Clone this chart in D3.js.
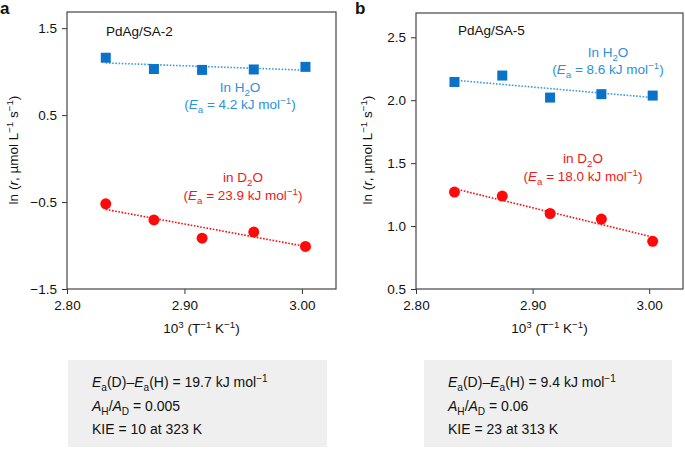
<!DOCTYPE html>
<html><head><meta charset="utf-8">
<script src="https://cdn.jsdelivr.net/npm/d3@7"></script>
<style>
body{margin:0;background:#fff;}
svg{display:block;font-family:"Liberation Sans",Arial,Helvetica,sans-serif;}
</style></head>
<body>
<svg id="c" width="685" height="457"></svg>
<script>
// ---- data ----
const invT = [2.833, 2.874, 2.915, 2.959, 3.003];
const xTicks = [2.80, 2.90, 3.00];
const fitX = [2.833, 3.003];

const aH2O = [1.16, 1.03, 1.02, 1.025, 1.055];
const aD2O = [-0.52, -0.705, -0.915, -0.845, -1.01];
const aFitH2O = [1.10, 1.017];
const aFitD2O = [-0.585, -1.01];
const aYTicks = [-1.5, -0.5, 0.5, 1.5];

const bH2O = [2.145, 2.196, 2.021, 2.048, 2.037];
const bD2O = [1.27, 1.238, 1.10, 1.056, 0.879];
const bFitH2O = [2.159, 2.021];
const bFitD2O = [1.297, 0.913];
const bYTicks = [0.5, 1.0, 1.5, 2.0, 2.5];

const blue = "#0a72c8", blueText = "#2a92da", blueLine = "#3d9ae0";
const red = "#ff0a0a", redText = "#f01818";
const FS = 13.5;

const svg = d3.select("#c");

function rich(g, x, y, parts, o) {
  o = o || {};
  const size = o.size || FS;
  const t = g.append("text").attr("x", x).attr("y", y)
    .attr("font-size", size).attr("fill", o.fill || "#111")
    .attr("text-anchor", o.anchor || "start");
  if (o.rotate) t.attr("transform", `rotate(${o.rotate},${x},${y})`);
  let off = 0;
  parts.forEach(p => {
    const [s, k] = Array.isArray(p) ? p : [p, ""];
    const ts = t.append("tspan").text(s);
    let target = 0;
    if (k.includes("sub")) { target = 3.5; ts.attr("font-size", size * 0.72); }
    if (k.includes("sup")) { target = -5; ts.attr("font-size", size * 0.72); }
    if (k.includes("i")) ts.attr("font-style", "italic");
    if (target !== off) { ts.attr("dy", target - off); off = target; }
  });
  return t;
}

function panel(cfg) {
  const x = d3.scaleLinear().domain([2.80, 3.029]).range([cfg.left, cfg.right]);
  const y = d3.scaleLinear().domain(cfg.yDomain).range([289, cfg.top]);
  const g = svg.append("g");
  const fmt = v => d3.format(cfg.yFmt)(v).replace("-", "\u2212");
  g.append("g").attr("transform", `translate(0,289)`)
    .call(d3.axisBottom(x).tickValues(xTicks).tickFormat(d3.format(".2f")).tickSize(5).tickPadding(6).tickSizeOuter(0))
    .call(a => { a.select(".domain").remove(); a.selectAll("line").attr("stroke", "#333");
      a.selectAll("text").attr("font-size", FS).attr("fill", "#111").attr("font-family", null); });
  g.append("g").attr("transform", `translate(${cfg.left},0)`)
    .call(d3.axisLeft(y).tickValues(cfg.yTicks).tickFormat(fmt).tickSize(5).tickPadding(5).tickSizeOuter(0))
    .call(a => { a.select(".domain").remove(); a.selectAll("line").attr("stroke", "#333");
      a.selectAll("text").attr("font-size", FS).attr("fill", "#111").attr("font-family", null); });
  g.append("rect").attr("x", cfg.left).attr("y", cfg.top)
    .attr("width", cfg.right - cfg.left).attr("height", 289 - cfg.top)
    .attr("fill", "none").attr("stroke", "#444").attr("stroke-width", 1.2);

  const line = d3.line().x(d => x(d[0])).y(d => y(d[1]));
  g.append("path").datum(fitX.map((v, i) => [v, cfg.fitH[i]])).attr("d", line)
    .attr("fill", "none").attr("stroke", blueLine).attr("stroke-width", 1.6).attr("stroke-dasharray", "1.6,1.6");
  g.append("path").datum(fitX.map((v, i) => [v, cfg.fitD[i]])).attr("d", line)
    .attr("fill", "none").attr("stroke", red).attr("stroke-width", 1.6).attr("stroke-dasharray", "1.6,1.6");

  g.selectAll(".sq").data(invT.map((v, i) => [v, cfg.H[i]])).enter().append("rect")
    .attr("x", d => x(d[0]) - 5).attr("y", d => y(d[1]) - 5).attr("width", 10).attr("height", 10).attr("fill", blue);
  g.selectAll(".ci").data(invT.map((v, i) => [v, cfg.D[i]])).enter().append("circle")
    .attr("cx", d => x(d[0])).attr("cy", d => y(d[1])).attr("r", 5.5).attr("fill", red);

  // labels
  rich(g, cfg.nameX, cfg.nameY, [cfg.name], {});
  rich(g, cfg.hx, cfg.hy, ["In H", ["2", "sub"], "O"], {anchor: "middle", fill: blueText});
  rich(g, cfg.hx, cfg.hy + 17, ["(", ["E", "i"], ["a", "sub"], " = " + cfg.eaH + " kJ mol", ["\u22121", "sup"], ")"], {anchor: "middle", fill: blueText});
  rich(g, cfg.dx, cfg.dy, ["in D", ["2", "sub"], "O"], {anchor: "middle", fill: redText});
  rich(g, cfg.dx, cfg.dy + 18, ["(", ["E", "i"], ["a", "sub"], " = " + cfg.eaD + " kJ mol", ["\u22121", "sup"], ")"], {anchor: "middle", fill: redText});

  // axis titles
  rich(g, (cfg.left + cfg.right) / 2, 333, ["10", ["3", "sup"], " (T", ["\u22121", "sup"], " K", ["\u22121", "sup"], ")"], {anchor: "middle"});
  rich(g, cfg.ylabX, 150, ["ln (", ["r", "i"], ", \u00b5mol L", ["\u22121", "sup"], " s", ["\u22121", "sup"], ")"], {anchor: "middle", rotate: -90});

  // panel letter
  g.append("text").attr("x", cfg.letterX).attr("y", 14).attr("font-size", 17).attr("font-weight", "bold").attr("fill", "#111").text(cfg.letter);

  // info box
  g.append("rect").attr("x", cfg.boxX).attr("y", 360).attr("width", cfg.boxW).attr("height", 87).attr("fill", "#efefef");
  const tx = cfg.boxX + 24;
  rich(g, tx, 387, [["E", "i"], ["a", "sub"], "(D)\u2013", ["E", "i"], ["a", "sub"], "(H) = " + cfg.dEa + " kJ mol", ["\u22121", "sup"]], {size: 14});
  rich(g, tx, 411, [["A", "i"], ["H", "sub"], "/", ["A", "i"], ["D", "sub"], " = " + cfg.ratio], {size: 14});
  rich(g, tx, 434, ["KIE = " + cfg.kie], {size: 14});
}

panel({left: 67, right: 336, top: 12, yDomain: [-1.5, 1.686], yTicks: aYTicks, yFmt: ".1f",
  H: aH2O, D: aD2O, fitH: aFitH2O, fitD: aFitD2O,
  name: "PdAg/SA-2", nameX: 106, nameY: 36, hx: 240, hy: 92, eaH: "4.2", dx: 243, dy: 182, eaD: "23.9",
  ylabX: 18, letter: "a", letterX: 0, boxX: 68, boxW: 259,
  dEa: "19.7", ratio: "0.005", kie: "10 at 323 K"});

panel({left: 416, right: 683, top: 13, yDomain: [0.5, 2.693], yTicks: bYTicks, yFmt: ".1f",
  H: bH2O, D: bD2O, fitH: bFitH2O, fitD: bFitD2O,
  name: "PdAg/SA-5", nameX: 458, nameY: 35, hx: 608, hy: 57, eaH: "8.6", dx: 583, dy: 163, eaD: "18.0",
  ylabX: 372, letter: "b", letterX: 355, boxX: 424, boxW: 248,
  dEa: "9.4", ratio: "0.06", kie: "23 at 313 K"});
</script>
</body></html>
